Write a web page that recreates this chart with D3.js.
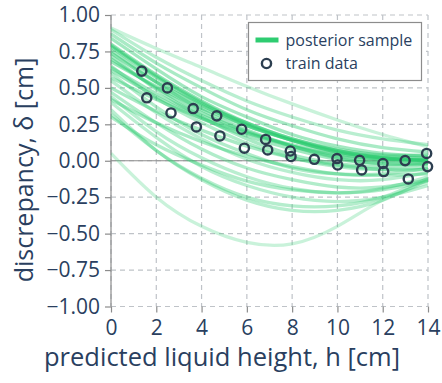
<!DOCTYPE html>
<html>
<head>
<meta charset="utf-8">
<script src="https://cdn.jsdelivr.net/npm/d3@7"></script>
<style>
  body { margin: 0; background: #fff; }
  svg text { font-family: "Open Sans", "Noto Sans", sans-serif; fill: #2a3f5f; }
</style>
</head>
<body>
<svg id="chart" width="442" height="383"></svg>
<script>
// train data: predicted liquid height h [cm] vs discrepancy delta [cm]
const trainH = [1.36, 1.58, 2.49, 2.65, 3.63, 3.77, 4.67, 4.81, 5.77, 5.89, 6.83, 6.92, 7.92,
    7.95, 8.98, 9.98, 10.01, 10.98, 11.07, 12.01, 12.04, 12.99, 13.13, 13.94, 13.98];
const trainDelta = [0.615, 0.432, 0.5, 0.328, 0.358, 0.232, 0.308, 0.17, 0.216, 0.086, 0.146, 0.074, 0.067,
    0.029, 0.01, 0.015, -0.029, 0.003, -0.063, -0.019, -0.074, 0.001, -0.125, 0.05, -0.04];

// posterior samples of the discrepancy, read at these heights
const sampleH = [0, 2, 4, 6, 8, 10, 12, 14];
const posteriorSamples = [
    [0.91, 0.77, 0.64, 0.51, 0.39, 0.28, 0.18, 0.095],
    [0.9, 0.71, 0.55, 0.41, 0.3, 0.21, 0.15, 0.11],
    [0.87, 0.67, 0.5, 0.35, 0.24, 0.15, 0.09, 0.06],
    [0.84, 0.63, 0.44, 0.3, 0.18, 0.1, 0.05, 0.03],
    [0.8, 0.59, 0.41, 0.26, 0.15, 0.07, 0.02, 0.0],
    [0.79, 0.58, 0.4, 0.25, 0.14, 0.06, 0.02, 0.01],
    [0.78, 0.57, 0.39, 0.26, 0.15, 0.08, 0.04, 0.04],
    [0.76, 0.54, 0.35, 0.21, 0.1, 0.02, -0.02, -0.02],
    [0.74, 0.54, 0.38, 0.24, 0.14, 0.06, 0.02, 0.0],
    [0.72, 0.49, 0.3, 0.15, 0.04, -0.02, -0.04, -0.02],
    [0.7, 0.5, 0.33, 0.2, 0.1, 0.03, 0.0, 0.0],
    [0.68, 0.51, 0.36, 0.24, 0.14, 0.07, 0.03, 0.02],
    [0.65, 0.43, 0.26, 0.12, 0.02, -0.04, -0.06, -0.04],
    [0.64, 0.46, 0.31, 0.19, 0.1, 0.04, 0.01, 0.01],
    [0.62, 0.44, 0.29, 0.17, 0.08, 0.01, -0.02, -0.02],
    [0.6, 0.37, 0.18, 0.05, -0.05, -0.09, -0.09, -0.05],
    [0.57, 0.42, 0.29, 0.19, 0.11, 0.05, 0.01, 0.0],
    [0.55, 0.33, 0.15, 0.01, -0.08, -0.13, -0.13, -0.08],
    [0.5, 0.34, 0.21, 0.1, 0.02, -0.03, -0.06, -0.06],
    [0.47, 0.26, 0.08, -0.05, -0.13, -0.18, -0.18, -0.13],
    [0.44, 0.2, 0.02, -0.11, -0.19, -0.22, -0.19, -0.11],
    [0.42, 0.26, 0.13, 0.03, -0.04, -0.09, -0.1, -0.09],
    [0.4, 0.16, -0.04, -0.17, -0.25, -0.28, -0.25, -0.17],
    [0.35, 0.07, -0.13, -0.27, -0.34, -0.34, -0.27, -0.13],
    [0.32, 0.07, -0.12, -0.25, -0.31, -0.31, -0.25, -0.12],
    [0.3, 0.11, -0.03, -0.14, -0.2, -0.22, -0.2, -0.14],
    [0.05, -0.25, -0.45, -0.56, -0.57, -0.45, -0.27, -0.15]
];
const sampleWeights = [0.1, 0.3, 0.5, 0.6, 0.8, 0.8, 0.7, 0.6, 0.9, 0.5, 0.7, 0.7, 0.4, 0.6,
    0.6, 0.4, 0.5, 0.3, 0.5, 0.4, 0.3, 0.5, 0.3, 0.3, 0.35, 0.4, 0.1];

const xTicks = [0, 2, 4, 6, 8, 10, 12, 14];
const yTicks = [-1, -0.75, -0.5, -0.25, 0, 0.25, 0.5, 0.75, 1];
const legendLabels = ["posterior sample", "train data"];

const green = "#2ecc71";
const navy = "#2c3e50";

const svg = d3.select("#chart");
const plot = { left: 111, right: 428, top: 15, bottom: 306.5 };

const x = d3.scaleLinear().domain([0, 14]).range([plot.left, plot.right]);
const y = d3.scaleLinear().domain([-1, 1]).range([plot.bottom, plot.top]);
const opacity = d3.scaleLinear().domain([0, 1]).range([0.22, 0.6]);

// dashed grid
svg.append("g")
    .selectAll("line.vgrid")
    .data(xTicks)
    .join("line")
    .attr("x1", (d) => x(d))
    .attr("x2", (d) => x(d))
    .attr("y1", plot.top)
    .attr("y2", plot.bottom)
    .attr("stroke", "#bfc3c8")
    .attr("stroke-width", 1.2)
    .attr("stroke-dasharray", "5,4");

svg.append("g")
    .selectAll("line.hgrid")
    .data(yTicks)
    .join("line")
    .attr("x1", plot.left)
    .attr("x2", plot.right)
    .attr("y1", (d) => y(d))
    .attr("y2", (d) => y(d))
    .attr("stroke", "#bfc3c8")
    .attr("stroke-width", 1.2)
    .attr("stroke-dasharray", "5,4");

// zero lines
svg.append("line")
    .attr("x1", plot.left).attr("x2", plot.right)
    .attr("y1", y(0)).attr("y2", y(0))
    .attr("stroke", "#8c8c8c").attr("stroke-width", 1.2);
svg.append("line")
    .attr("x1", x(0)).attr("x2", x(0))
    .attr("y1", plot.top).attr("y2", plot.bottom)
    .attr("stroke", "#8c8c8c").attr("stroke-width", 1.2);

// axes (ticks + labels only)
const xAxis = svg.append("g")
    .attr("transform", `translate(0,${plot.bottom})`)
    .call(d3.axisBottom(x).tickValues(xTicks).tickFormat(d3.format("d")).tickSize(6).tickPadding(8));
const yAxis = svg.append("g")
    .attr("transform", `translate(${plot.left},0)`)
    .call(d3.axisLeft(y).tickValues(yTicks).tickFormat(d3.format(".2f")).tickSize(6).tickPadding(5));

[xAxis, yAxis].forEach((g) => {
    g.select(".domain").remove();
    g.selectAll(".tick line").attr("stroke", "#8c8c8c").attr("stroke-width", 1.2);
    g.selectAll(".tick text")
        .attr("font-size", 21)
        .attr("font-family", null)
        .attr("fill", null);
});

svg.append("clipPath").attr("id", "clip")
    .append("rect")
    .attr("x", plot.left).attr("y", plot.top)
    .attr("width", plot.right - plot.left).attr("height", plot.bottom - plot.top);

// posterior samples
const line = d3.line()
    .x((d, i) => x(sampleH[i]))
    .y((d) => y(d))
    .curve(d3.curveNatural);

svg.append("g")
    .attr("clip-path", "url(#clip)")
    .selectAll("path")
    .data(posteriorSamples)
    .join("path")
    .attr("d", line)
    .attr("fill", "none")
    .attr("stroke", green)
    .attr("stroke-width", 3.3)
    .attr("stroke-opacity", (d, i) => opacity(sampleWeights[i]));

// train data
svg.append("g")
    .selectAll("circle")
    .data(trainH)
    .join("circle")
    .attr("cx", (d) => x(d))
    .attr("cy", (d, i) => y(trainDelta[i]))
    .attr("r", 4.6)
    .attr("fill", "none")
    .attr("stroke", navy)
    .attr("stroke-width", 2.4);

// axis titles
svg.append("text")
    .attr("x", 222)
    .attr("y", 366)
    .attr("text-anchor", "middle")
    .attr("font-size", 25.5)
    .text("predicted liquid height, h [cm]");

svg.append("text")
    .attr("transform", "translate(33,170) rotate(-90)")
    .attr("text-anchor", "middle")
    .attr("font-size", 25)
    .text("discrepancy, δ [cm]");

// legend
const legend = svg.append("g").attr("transform", "translate(248.5,22.5)");
legend.append("rect")
    .attr("width", 173)
    .attr("height", 58)
    .attr("fill", "#fff")
    .attr("stroke", "#8c8c8c")
    .attr("stroke-width", 1.2);
legend.append("line")
    .attr("x1", 7).attr("x2", 30)
    .attr("y1", 17.5).attr("y2", 17.5)
    .attr("stroke", green)
    .attr("stroke-width", 5);
legend.append("circle")
    .attr("cx", 18).attr("cy", 41)
    .attr("r", 4.6)
    .attr("fill", "none")
    .attr("stroke", navy)
    .attr("stroke-width", 2.4);
legend.selectAll("text")
    .data(legendLabels)
    .join("text")
    .attr("x", 37)
    .attr("y", (d, i) => 17.5 + i * 23.5)
    .attr("dy", "0.35em")
    .attr("font-size", 16)
    .text((d) => d);
</script>
</body>
</html>
